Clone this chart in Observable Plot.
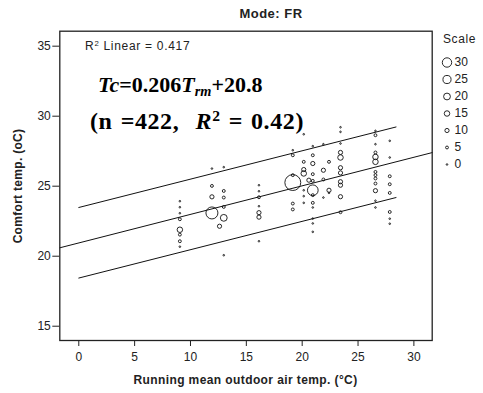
<!DOCTYPE html>
<html><head><meta charset="utf-8">
<script src="https://cdn.jsdelivr.net/npm/d3@7"></script>
<script src="https://cdn.jsdelivr.net/npm/@observablehq/plot@0.6"></script>
<style>
body{margin:0;background:#fff;}
#wrap{position:relative;width:483px;height:393px;font-family:"Liberation Sans",Arial,sans-serif;color:#222;overflow:hidden;}
#wrap svg{position:absolute;left:0;top:0;}
.abs{position:absolute;white-space:nowrap;line-height:1;}
.eq{font-family:"Liberation Serif","Times New Roman",serif;font-weight:bold;color:#000;}
.eq sub,.eq sup{font-size:65%;line-height:0;position:relative;vertical-align:baseline;}
.eq sub{top:0.3em;}
.eq sup{top:-0.5em;}
.bold{font-weight:bold;}
</style></head><body><div id="wrap"></div>
<script>
// ---- data ----
const comfortX = [
  9.05, 9.05, 9.05, 9.05, 9.05, 9.05, 9.05, 9.05,
  11.92, 11.92, 11.92, 11.92,
  12.98, 12.98, 12.98, 12.98, 12.98, 12.98, 12.6,
  16.13, 16.13, 16.13, 16.13, 16.13, 16.13, 16.13,
  19.16, 19.16, 19.16, 19.16, 19.16, 19.16,
  20.14, 20.14, 20.14, 20.14, 20.14, 20.14, 20.14, 20.6,
  20.95, 20.95, 20.95, 20.95, 20.95, 20.95, 20.95, 20.95, 20.95, 20.95, 20.95, 20.95,
  21.9, 21.9, 21.9, 21.9,
  22.4, 22.4, 22.4,
  23.43, 23.43, 23.43, 23.43, 23.43, 23.43, 23.43, 23.43, 23.43, 23.43, 23.43,
  26.56, 26.56, 26.56, 26.56, 26.56, 26.56, 26.56, 26.56, 26.56, 26.56, 26.56, 26.56, 26.56,
  27.84, 27.84, 27.84, 27.84, 27.84, 27.84, 27.84, 27.84
];
const comfortY = [
  23.93, 23.5, 23.07, 22.64, 21.89, 21.54, 21.07, 20.68,
  26.26, 25.02, 24.24, 23.09,
  26.36, 24.66, 24.19, 23.52, 22.74, 20.07, 22.14,
  25.07, 24.64, 24.21, 23.57, 23.11, 22.79, 21.07,
  27.57, 27.21, 25.79, 25.26, 23.76, 23.34,
  28.71, 26.74, 26.19, 25.91, 24.71, 24.29, 23.81, 25.43,
  27.86, 27.21, 26.62, 25.86, 25.38, 24.71, 24.36, 23.81, 23.48, 22.69, 22.34, 21.74,
  28.0, 26.14, 25.48, 24.19,
  26.74, 24.71, 24.52,
  29.21, 28.88, 28.05, 27.41, 27.05, 26.32, 25.95, 25.32, 25.07, 24.25, 23.14,
  28.95, 28.64, 28.0, 27.41, 27.09, 26.74, 26.02, 25.79, 25.55, 25.19, 24.68, 23.96, 23.48,
  28.24, 27.05, 25.71, 25.14, 24.52, 23.16, 22.68, 22.32
];
const bubbleSize = [
  0, 0, 0, 5, 15, 5, 5, 0,
  0, 5, 10, 40,
  0, 5, 5, 5, 20, 0, 10,
  0, 0, 5, 0, 10, 10, 0,
  0, 5, 5, 55, 5, 5,
  0, 5, 10, 15, 0, 0, 0, 10,
  0, 5, 10, 5, 5, 35, 5, 5, 0, 0, 0, 0,
  0, 10, 5, 0,
  5, 10, 0,
  0, 0, 0, 10, 15, 10, 10, 10, 10, 10, 5,
  0, 5, 0, 5, 15, 15, 5, 5, 5, 5, 10, 0, 0,
  0, 0, 5, 5, 5, 5, 0, 0
];
// fit line (Tc = 0.206 Trm + 20.8) and the two bounding lines, endpoints
const fitX = [-1.7, 31.64];
const fitY = [20.6, 27.4];
const bandX = [0, 28.4];
const upperY = [23.48, 29.23];
const lowerY = [18.44, 24.19];
const xTicks = [0, 5, 10, 15, 20, 25, 30];
const yTicks = [15, 20, 25, 30, 35];
const scaleValues = [30, 25, 20, 15, 10, 5, 0];

// ---- build ----
const points = comfortX.map((x, i) => ({x, y: comfortY[i], s: bubbleSize[i]}));
const lines = [
  ...fitX.map((x, i) => ({g: "fit", x, y: fitY[i]})),
  ...bandX.map((x, i) => ({g: "upper", x, y: upperY[i]})),
  ...bandX.map((x, i) => ({g: "lower", x, y: lowerY[i]}))
];
const rScale = {type: "linear", domain: [0, 30], range: [0.8, 4.7]};
const font = "'Liberation Sans', Arial, sans-serif";

const main = Plot.plot({
  width: 483, height: 393,
  marginLeft: 59.3, marginRight: 51.3, marginTop: 30.7, marginBottom: 53,
  style: {fontFamily: font, fontSize: "12px", color: "#222", background: "transparent", overflow: "visible"},
  x: {domain: [-1.7, 31.64], ticks: xTicks, tickSize: 6, tickPadding: 6, label: null},
  y: {domain: [13.98, 36.07], ticks: yTicks, tickSize: 7, tickPadding: 2, label: null},
  r: rScale,
  marks: [
    Plot.line(lines, {x: "x", y: "y", z: "g", stroke: "#111", strokeWidth: 1}),
    Plot.dot(points, {x: "x", y: "y", r: "s", stroke: "#111", strokeWidth: 0.9, fill: "none"}),
    Plot.frame({stroke: "#222", strokeWidth: 1.3})
  ]
});

const legend = Plot.plot({
  width: 53, height: 200, margin: 0,
  style: {fontFamily: font, fontSize: "12px", color: "#222", background: "transparent", overflow: "visible"},
  y: {type: "point", domain: scaleValues, range: [59, 166], padding: 0, axis: null},
  r: rScale,
  marks: [
    Plot.dot(scaleValues, {y: d => d, r: d => d, frameAnchor: "left", dx: 16.5, stroke: "#111", strokeWidth: 0.9, fill: "none"}),
    Plot.text(scaleValues, {y: d => d, text: d => String(d), frameAnchor: "left", dx: 24, textAnchor: "start", fill: "#222"})
  ]
});

const wrap = document.getElementById("wrap");
wrap.appendChild(main);
legend.style.left = "430px";
wrap.appendChild(legend);

function addDiv(html, css, cls) {
  const d = document.createElement("div");
  d.className = "abs " + (cls || "");
  d.innerHTML = html;
  Object.assign(d.style, css);
  wrap.appendChild(d);
  return d;
}
addDiv("Mode: FR", {left: "271px", top: "7px", fontSize: "13px", letterSpacing: "0.5px", transform: "translateX(-50%)"}, "bold");
addDiv("Scale", {left: "443px", top: "33px", fontSize: "12px", letterSpacing: "0.6px"});
addDiv("R<sup style='font-size:65%;line-height:0;position:relative;vertical-align:baseline;top:-0.55em'>2</sup> Linear = 0.417", {left: "85px", top: "40px", fontSize: "12px", letterSpacing: "0.7px"});
addDiv("<i>Tc</i>=0.206<i>T<sub>rm</sub></i>+20.8", {left: "98px", top: "74px", fontSize: "22px"}, "eq");
addDiv("(n =422,&nbsp; <i>R</i><sup>2</sup> = 0.42)", {left: "90px", top: "109px", fontSize: "24px", letterSpacing: "0.6px", wordSpacing: "1.5px"}, "eq");
addDiv("Running mean outdoor air temp. (°C)", {left: "245.5px", top: "374px", fontSize: "12px", letterSpacing: "0.4px", transform: "translateX(-50%)"}, "bold");
addDiv("Comfort temp. (oC)", {left: "18px", top: "186px", fontSize: "12px", letterSpacing: "0.3px", transform: "translate(-50%,-50%) rotate(-90deg)"}, "bold");
</script></body></html>
